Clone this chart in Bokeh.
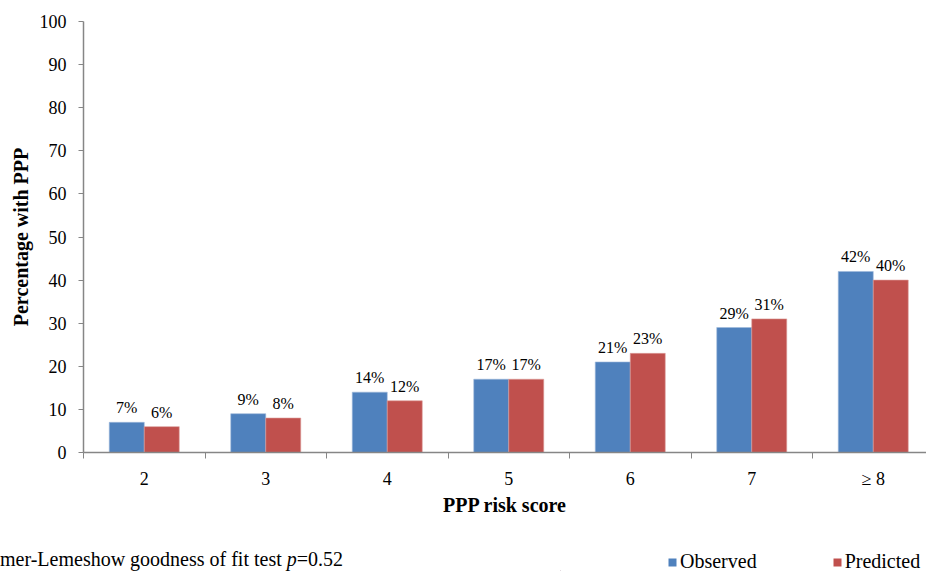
from bokeh.plotting import figure
from bokeh.layouts import column, row
from bokeh.models import ColumnDataSource, FixedTicker, Range1d, Legend, LegendItem, Div
from bokeh.core.properties import value
from bokeh.embed import file_html
from bokeh.resources import INLINE

categories = ["2", "3", "4", "5", "6", "7", "\u2265 8"]
observed = [7, 9, 14, 17, 21, 29, 42]
predicted = [6, 8, 12, 17, 23, 31, 40]
y_ticks = [0, 10, 20, 30, 40, 50, 60, 70, 80, 90, 100]
footnote_main = "mer-Lemeshow goodness of fit test "
footnote_p = "p"
footnote_val = "=0.52"

BLUE = "#4F81BD"
RED = "#C0504D"
GRAY = "#868686"
FONT = "Liberation Serif"

n = len(categories)
bw = 0.288
centers = [i + 0.5 for i in range(n)]
obs_x = [c - bw / 2 for c in centers]
pred_x = [c + bw / 2 for c in centers]

src_obs = ColumnDataSource(dict(x=obs_x, top=observed, lab=[f"{v}%" for v in observed]))
src_pred = ColumnDataSource(dict(x=pred_x, top=predicted, lab=[f"{v}%" for v in predicted]))

p = figure(width=926, height=540, output_backend="svg", toolbar_location=None,
           x_range=Range1d(0, 843 / 121.5), y_range=Range1d(0, 100),
           min_border_left=83, min_border_right=0, min_border_top=21, min_border_bottom=88)
p.outline_line_color = None
p.grid.visible = False

r_obs = p.vbar(x="x", top="top", width=bw, bottom=0, source=src_obs,
               fill_color=BLUE, line_color="#9DB8DA", line_width=0.6)
r_pred = p.vbar(x="x", top="top", width=bw, bottom=0, source=src_pred,
                fill_color=RED, line_color="#DC9C9A", line_width=0.6)

for s in (src_obs, src_pred):
    p.text(x="x", y="top", text="lab", source=s, text_align="center",
           text_baseline="bottom", y_offset=-6, text_font=value(FONT),
           text_font_size="16px", text_color="black")

xa = p.xaxis[0]
xa.ticker = FixedTicker(ticks=centers, minor_ticks=list(range(n + 1)))
xa.major_label_overrides = {c: lab for c, lab in zip(centers, categories)}
xa.major_tick_out = 0
xa.major_tick_in = 0
xa.minor_tick_out = 6
xa.minor_tick_in = 0
xa.minor_tick_line_color = GRAY
xa.axis_line_color = GRAY
xa.axis_line_width = 1.5
xa.major_label_standoff = 10
xa.major_label_text_font = FONT
xa.major_label_text_font_size = "18px"
xa.major_label_text_color = "black"
xa.axis_label = "PPP risk score"
xa.axis_label_text_font = FONT
xa.axis_label_text_font_style = "bold"
xa.axis_label_text_font_size = "20px"
xa.axis_label_text_color = "black"
xa.axis_label_standoff = 2

ya = p.yaxis[0]
ya.ticker = FixedTicker(ticks=y_ticks)
ya.minor_tick_line_color = None
ya.major_tick_out = 5
ya.major_tick_in = 0
ya.major_tick_line_color = GRAY
ya.axis_line_color = GRAY
ya.axis_line_width = 1.5
ya.major_label_standoff = 12
ya.major_label_text_font = FONT
ya.major_label_text_font_size = "18px"
ya.major_label_text_color = "black"
ya.axis_label = "Percentage with PPP"
ya.axis_label_text_font = FONT
ya.axis_label_text_font_style = "bold"
ya.axis_label_text_font_size = "20px"
ya.axis_label_text_color = "black"
ya.axis_label_standoff = 5

# footnote as HTML text
note = Div(text=(f'<div style="font-family: \'{FONT}\', serif; font-size: 20px; line-height: 22px; '
                 f'padding-top: 8px; white-space: nowrap; color: black;">'
                 f'{footnote_main}<i>{footnote_p}</i>{footnote_val}</div>'),
           width=560, height=31, margin=0)

# legend strip
p2 = figure(width=366, height=31, output_backend="svg", toolbar_location=None,
            x_range=Range1d(0, 366), y_range=Range1d(0, 31),
            x_axis_location=None, y_axis_location=None,
            min_border=0, min_border_left=0, min_border_right=0, min_border_top=0, min_border_bottom=0)
p2.grid.visible = False
p2.outline_line_color = None
d_obs = p2.vbar(x=[-1000], top=[1], width=1, fill_color=BLUE, line_color=None)
d_pred = p2.vbar(x=[-1000], top=[1], width=1, fill_color=RED, line_color=None)
legend = Legend(items=[LegendItem(label="Observed", renderers=[d_obs]),
                       LegendItem(label="Predicted", renderers=[d_pred])],
                location=(107, -2), orientation="horizontal",
                padding=0, margin=0, spacing=75, label_standoff=3,
                glyph_width=10, glyph_height=10,
                border_line_color=None, background_fill_alpha=0,
                label_text_font=FONT, label_text_font_size="20px",
                label_text_color="black")
p2.add_layout(legend, "center")

lay = column(p, row(note, p2, spacing=0), spacing=0)
open("out.html", "w").write(file_html(lay, INLINE))
